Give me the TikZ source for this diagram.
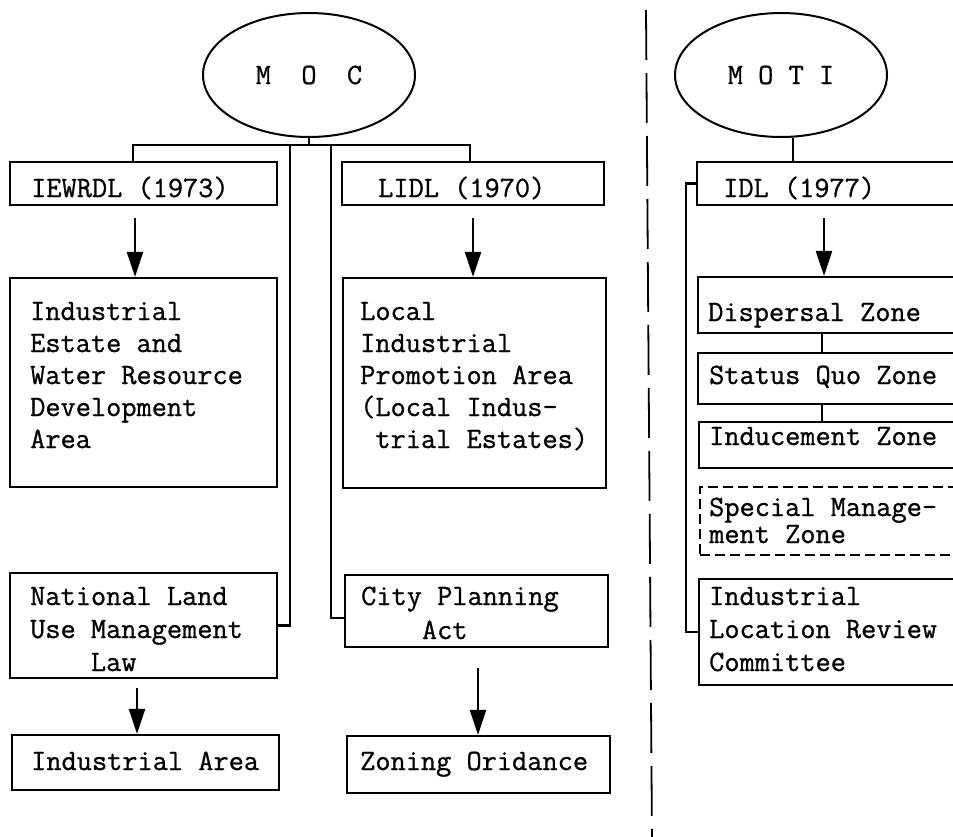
\documentclass[tikz,border=0pt]{standalone}
\usepackage{fontspec}
\newfontfamily\twfont{Latin Modern Mono}[FakeBold=0.9]
\usetikzlibrary{arrows.meta,shapes.geometric,fit}
\newcommand\mlines[2][32pt]{\vtop{\baselineskip=#1\relax #2}}
\begin{document}
\begin{tikzpicture}[x=1pt,y=-1pt,
  box/.style={draw, line width=2.2pt, inner sep=0pt, rectangle},
  dbox/.style={box, line width=1.8pt, dash pattern=on 10pt off 5pt},
  lbl/.style={anchor=base west, inner sep=0pt, font=\twfont\fontsize{29.5}{32}\selectfont},
  lnk/.style={line width=2.2pt},
  arr/.style={line width=2.4pt, -{Triangle[length=25pt,width=16pt]}},
  oval/.style={draw, ellipse, line width=2pt, minimum width=212pt, minimum height=124pt, inner sep=0pt, font=\twfont\fontsize{29.5}{32}\selectfont}]
\useasboundingbox (0,0) rectangle (953,836);
\clip (0,0) rectangle (953,836);
% ovals
\node[oval] (moc) at (309,75) {M~~O~~C};
\node[oval] (moti) at (781,75) {M~O~T~I};
% left boxes
\node[box, fit={(10,162) (277,205)}] (iewrdl) {};
\node[box, fit={(342,162) (604,205)}] (lidl) {};
\node[box, fit={(10,278) (277,487)}] (ie) {};
\node[box, fit={(343,278) (606,488)}] (lipa) {};
\node[box, fit={(10,573) (277,678)}] (nluml) {};
\node[box, fit={(345,575) (608,647)}] (cpa) {};
\node[box, fit={(12,735) (279,790)}] (ia) {};
\node[box, fit={(347,736) (610,793)}] (zo) {};
% right boxes
\node[box, fit={(697,162) (975,205)}] (idl) {};
\node[box, fit={(698,277) (975,333)}] (disp) {};
\node[box, fit={(698,353) (975,404)}] (sq) {};
\node[box, fit={(699,422) (975,468)}] (ind) {};
\node[dbox, fit={(700,487) (975,555)}] (spec) {};
\node[box, fit={(699,579) (975,685)}] (ilrc) {};
% texts
\node[lbl] (t-iewrdl) at (31,197) {IEWRDL (1973)};
\node[lbl] (t-lidl) at (378,197) {LIDL (1970)};
\node[lbl] (t-ie) at (30,320) {\mlines{\hbox{Industrial}\hbox{Estate and}\hbox{Water Resource}\hbox{Development}\hbox{Area}}};
\node[lbl] (t-lipa) at (360,320) {\mlines{\hbox{Local}\hbox{Industrial}\hbox{Promotion Area}\hbox{(Local Indus-}\hbox{\ trial Estates)}}};
\node[lbl] (t-nluml) at (30,605) {\mlines[33pt]{\hbox{National Land}\hbox{Use Management}\hbox{\ \ \ \ Law}}};
\node[lbl] (t-cpa) at (361,605) {\mlines[34pt]{\hbox{City Planning}\hbox{\ \ \ \ Act}}};
\node[lbl] (t-ia) at (31,770) {Industrial Area};
\node[lbl] (t-zo) at (360,770) {Zoning Oridance};
\node[lbl] (t-idl) at (723,197) {IDL (1977)};
\node[lbl] (t-disp) at (708,321) {Dispersal Zone};
\node[lbl] (t-sq) at (709,384) {Status Quo Zone};
\node[lbl] (t-ind) at (709,445) {Inducement Zone};
\node[lbl] (t-spec) at (709,516) {\mlines[27pt]{\hbox{Special Manage-}\hbox{ment Zone}}};
\node[lbl] (t-ilrc) at (709,605) {\mlines[33pt]{\hbox{Industrial}\hbox{Location Review}\hbox{Committee}}};
% MOC connectors
\coordinate (jl) at (133,145);
\coordinate (jr) at (470,145);
\coordinate (jm1) at (290,145);
\coordinate (jm2) at (331,145);
\coordinate (cpj) at (331,618);
\draw[lnk] (moc.south) -- (moc.south |- jl);
\draw[lnk] (jl |- iewrdl.north) -- (jl) -- (jr) -- (jr |- lidl.north);
\draw[lnk] (jm1) |- (nluml.east);
\draw[lnk] (jm2) -- (cpj) -- (cpj -| cpa.west);
% arrows
\coordinate (a1) at (135,218);
\coordinate (a2) at (473,218);
\coordinate (a3) at (137,688);
\coordinate (a4) at (478,668);
\coordinate (a5) at (824,218);
\draw[arr] (a1) -- (a1 |- ie.north);
\draw[arr] (a2) -- (a2 |- lipa.north);
\draw[arr] (a3) -- (a3 |- ia.north);
\draw[arr] (a4) -- (a4 |- zo.north);
\draw[arr] (a5) -- (a5 |- disp.north);
% MOTI connectors
\coordinate (mt) at (793,0);
\coordinate (zx) at (822,0);
\draw[lnk] (mt |- moti.south) -- (mt |- idl.north);
\draw[lnk] (zx |- disp.south) -- (zx |- sq.north);
\draw[lnk] (zx |- sq.south) -- (zx |- ind.north);
\draw[lnk] (idl.west) -- ++(-10,0) |- (ilrc.west);
% separator
\coordinate (s1) at (646,10);
\coordinate (s2) at (652,840);
\draw[line width=1.8pt, dash pattern=on 50pt off 13pt] (s1) -- (s2);
\end{tikzpicture}
\end{document}
